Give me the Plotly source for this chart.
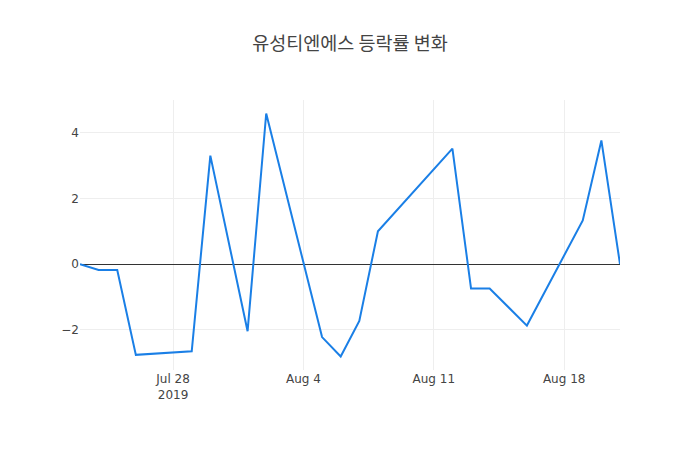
import plotly.graph_objects as go

dates = ["2019-07-23", "2019-07-24", "2019-07-25", "2019-07-26", "2019-07-29",
         "2019-07-30", "2019-08-01", "2019-08-02", "2019-08-05", "2019-08-06",
         "2019-08-07", "2019-08-08", "2019-08-12", "2019-08-13", "2019-08-14",
         "2019-08-16", "2019-08-19", "2019-08-20", "2019-08-21"]
changes = [0.0, -0.18, -0.18, -2.76, -2.65,
           3.3, -2.04, 4.58, -2.22, -2.81,
           -1.73, 1.0, 3.51, -0.74, -0.74,
           -1.87, 1.33, 3.76, 0.0]

fig = go.Figure()
fig.add_trace(go.Scatter(x=dates, y=changes, mode="lines",
                         line=dict(color="#1a7fe6", width=2)))

# page has an 8px body margin, so shift the margins to line up
fig.update_layout(
    title=dict(text="유성티엔에스 등락률 변화", x=0.5, xref="paper",
               y=0.922, yref="container", yanchor="middle",
               font=dict(family="Noto Sans CJK KR", size=18.5, color="#444")),
    width=700, height=450,
    margin=dict(l=72, r=88, t=92, b=88),
    template="plotly_white",
    font=dict(family="DejaVu Sans", size=12, color="#444"),
    showlegend=False,
)
fig.update_xaxes(showgrid=True, gridcolor="#eeeeee")
fig.update_yaxes(showgrid=True, gridcolor="#eeeeee", zeroline=True,
                 zerolinecolor="#333", zerolinewidth=1)

fig.write_html("out.html")
